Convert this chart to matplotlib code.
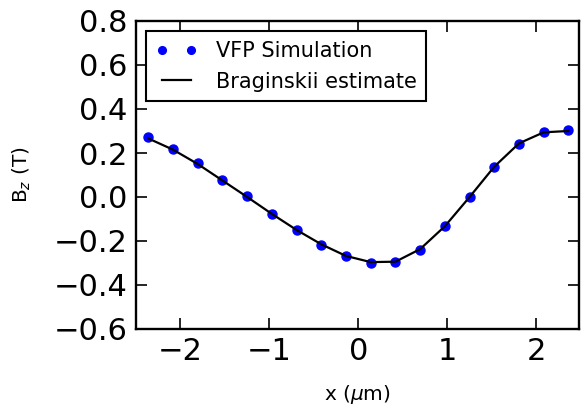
import numpy as np
import matplotlib
matplotlib.use('Agg')
import matplotlib.pyplot as plt

matplotlib.rcParams.update({'font.size': 22})

# VFP simulation points (cell centres) and Braginskii estimate
x_vfp = np.array([-2.361, -2.083, -1.806, -1.528, -1.250, -0.972, -0.694, -0.417, -0.139,
                  0.139, 0.417, 0.694, 0.972, 1.250, 1.528, 1.806, 2.083, 2.361])
bz_vfp = np.array([0.272, 0.219, 0.153, 0.078, 0.004, -0.075, -0.151, -0.216, -0.269,
                   -0.299, -0.295, -0.239, -0.133, 0.001, 0.136, 0.242, 0.297, 0.303])
bz_brag = np.array([0.266, 0.215, 0.150, 0.075, 0.000, -0.077, -0.150, -0.215, -0.268,
                    -0.296, -0.294, -0.237, -0.133, 0.000, 0.138, 0.244, 0.294, 0.300])

fig = plt.figure(figsize=(5.81, 4.05), dpi=100)
ax = fig.add_axes([136/581, 1-329/405, (579-136)/581, (329-21)/405])

ax.plot(x_vfp, bz_vfp, 'o', color='blue', markeredgecolor='blue', markersize=6.5,
        label='VFP Simulation')
ax.plot(x_vfp, bz_brag, '-', color='black', linewidth=1.6, label='Braginskii estimate')

ax.set_xlim(-2.5, 2.48)
ax.set_ylim(-0.6, 0.8)
ax.set_xticks([-2, -1, 0, 1, 2])
ax.set_xticklabels(['\u22122', '\u22121', '0', '1', '2'])
ax.set_yticks(np.arange(-0.6, 0.81, 0.2))
ax.set_yticklabels(['\u22120.6', '\u22120.4', '\u22120.2', '0.0', '0.2', '0.4', '0.6', '0.8'])
ax.tick_params(direction='in', length=8, width=1.2, top=True, right=True, pad=6)
for s in ax.spines.values():
    s.set_linewidth(1.7)

ax.set_xlabel('x ($\\mu$m)', fontsize=14.5, labelpad=12)
ax.set_ylabel('B$_{z}$ (T)', fontsize=14.5, labelpad=15)

leg = ax.legend(loc='upper left', numpoints=2, fontsize=15, fancybox=False, framealpha=1,
                borderaxespad=0.5, handlelength=2.0, handletextpad=0.9, borderpad=0.45,
                labelspacing=0.52, markerscale=0.85)
leg.get_frame().set_edgecolor('black')
leg.get_frame().set_linewidth(1.5)

plt.savefig('out.png', dpi=100)
